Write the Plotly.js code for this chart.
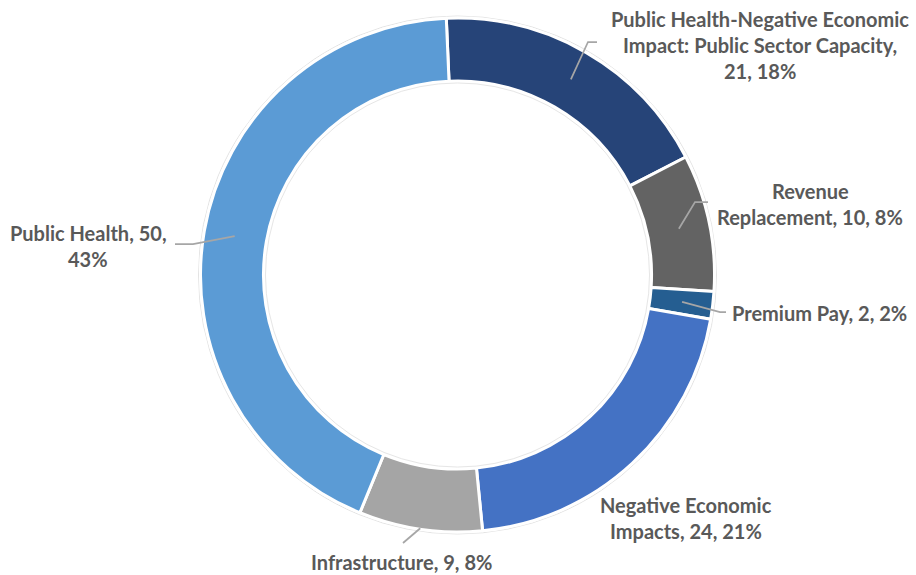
<!DOCTYPE html>
<html>
<head>
<meta charset="utf-8">
<script src="https://cdn.plot.ly/plotly-3.0.1.min.js"></script>
<style>html,body{margin:0;padding:0;background:#fff;}#chart{width:916px;height:575px;}</style>
</head>
<body>
<div id="chart"></div>
<script>
// ---- data ----
const categories = [
  "Public Health-Negative Economic Impact: Public Sector Capacity",
  "Revenue Replacement",
  "Premium Pay",
  "Negative Economic Impacts",
  "Infrastructure",
  "Public Health"
];
const values = [21, 10, 2, 24, 9, 50];
const percents = [18, 8, 2, 21, 8, 43];
const colors = ["#264478", "#636363", "#255E91", "#4472C4", "#A5A5A5", "#5B9BD5"];
// how each label is wrapped onto lines in the reference
const labelLines = [
  ["Public Health-Negative Economic", "Impact: Public Sector Capacity,", "{v}, {p}%"],
  ["Revenue", "Replacement, {v}, {p}%"],
  ["Premium Pay, {v}, {p}%"],
  ["Negative Economic", "Impacts, {v}, {p}%"],
  ["Infrastructure, {v}, {p}%"],
  ["Public Health, {v},", "{p}%"]
];

// ---- layout constants (pixels) ----
const W = 916, H = 575;
const CX = 457.5, CY = 275, R = 257, HOLE = 0.755;
const ROT = -2.5;
const LINE_H = 26.5;
// label block centres (px) and leader geometry
const labelPos = [[760, 45], [810, 204], [819, 313], [686, 518], [401, 562], [88, 246]];
const leaders = [
  {r: 0.88, pts: [[588, 42], [597, 42]]},
  {r: 0.88, pts: [[695, 202], [708, 202]]},
  {r: 0.88, pts: [[720, 312], [726, 312]]},
  null,
  {r: 1.0, pts: [[403, 543]]},
  {r: 0.88, pts: [[193, 244], [175, 244]]}
];

const px = x => x / W;
const py = y => 1 - y / H;

const total = values.reduce((a, b) => a + b, 0);
let ang = ROT;
const mids = values.map(v => { const span = v / total * 360; const m = ang + span / 2; ang += span; return m; });

const annotations = [];
labelLines.forEach((lines, i) => {
  const [lx, ly] = labelPos[i];
  const n = lines.length;
  lines.forEach((t, k) => {
    const txt = t.replace("{v}", values[i]).replace("{p}", percents[i]);
    annotations.push({
      x: px(lx), y: py(ly + (k - (n - 1) / 2) * LINE_H), xref: "paper", yref: "paper",
      text: txt, showarrow: false, xanchor: "center", yanchor: "middle",
      font: {family: "Lato, 'Open Sans', sans-serif", size: 20, color: "#595959", weight: 700}
    });
  });
});

const shapes = [
  {type: "circle", xref: "paper", yref: "paper", x0: px(CX - R - 2), x1: px(CX + R + 2), y0: py(CY + R + 2), y1: py(CY - R - 2), line: {color: "#e3e3e3", width: 1}, layer: "below"},
  {type: "circle", xref: "paper", yref: "paper", x0: px(CX - R * HOLE + 2), x1: px(CX + R * HOLE - 2), y0: py(CY + R * HOLE - 2), y1: py(CY - R * HOLE + 2), line: {color: "#e6e6e6", width: 1}, layer: "above"}
];
leaders.forEach((ld, i) => {
  if (!ld) return;
  const a = mids[i] * Math.PI / 180;
  const rr = ld.r * R - (ld.r < 1 ? 0 : 1);
  const sx = CX + rr * Math.sin(a), sy = CY - rr * Math.cos(a);
  let path = `M ${px(sx)},${py(sy)}`;
  ld.pts.forEach(p => { path += ` L ${px(p[0])},${py(p[1])}`; });
  shapes.push({type: "path", xref: "paper", yref: "paper", path, line: {color: "#a6a6a6", width: 1.75}});
});

const trace = {
  type: "pie",
  labels: categories,
  values: values,
  hole: HOLE,
  sort: false,
  direction: "clockwise",
  rotation: ROT,
  textinfo: "none",
  hoverinfo: "label+value+percent",
  marker: {colors: colors, line: {color: "#ffffff", width: 3}},
  domain: {x: [px(CX - R), px(CX + R)], y: [py(CY + R), py(CY - R)]},
  showlegend: false
};

const layout = {
  width: W, height: H,
  margin: {l: 0, r: 0, t: 0, b: 0},
  paper_bgcolor: "#ffffff",
  plot_bgcolor: "#ffffff",
  showlegend: false,
  annotations, shapes
};

Plotly.newPlot("chart", [trace], layout, {displayModeBar: false, staticPlot: true});
</script>
</body>
</html>
